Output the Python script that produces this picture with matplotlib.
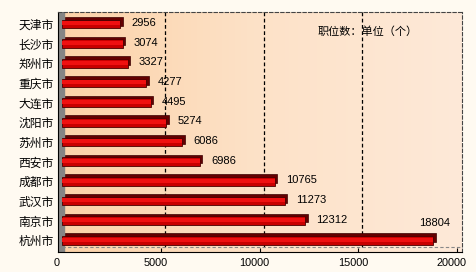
import numpy as np
import matplotlib.pyplot as plt
from matplotlib.colors import LinearSegmentedColormap
from matplotlib.transforms import ScaledTranslation

plt.rcParams['font.family'] = ['Noto Sans CJK SC', 'DejaVu Sans']

cities = ['天津市', '长沙市', '郑州市', '重庆市', '大连市', '沈阳市',
          '苏州市', '西安市', '成都市', '武汉市', '南京市', '杭州市']
jobs = [2956, 3074, 3327, 4277, 4495, 5274, 6086, 6986, 10765, 11273, 12312, 18804]
xticks = [0, 5000, 10000, 15000, 20000]
unit_note = '职位数：单位（个）'

# pixel scale helpers (x: 395 px per 20000)
k = 395 / 20000
x_lo = -4 / k
x_hi = 400 / k
y_top, y_bot = -0.61, 11.6
dx = 2.5 / k        # 3d depth in data units
dy = 2.5 / 19.65

fig = plt.figure(figsize=(4.76, 2.72), dpi=100, facecolor='#fffaf1')
ax = fig.add_axes([58 / 476, 20 / 272, 404 / 476, 240 / 272])
ax.set_xlim(x_lo, x_hi)
ax.set_ylim(y_bot, y_top)

# peach gradient back wall
cmap = LinearSegmentedColormap.from_list('peach', ['#fcd2a8', '#fde2c8', '#fee9d8'])
grad = np.linspace(0, 1, 256).reshape(1, -1)
ax.imshow(grad, extent=[x_lo, x_hi, y_bot, y_top], aspect='auto', cmap=cmap, zorder=0)

# back wall gridlines
floor_y = (247 - 24) / 19.65
for t in xticks[1:-1]:
    ax.plot([t + 4 / k, t + 4 / k], [y_top, floor_y], ls=(0, (3, 2)), color='black', lw=0.9, zorder=1)
ax.plot([0, x_hi], [floor_y, floor_y], ls=(0, (3, 2)), color='#888888', lw=0.8, zorder=1)

# left grey wall
ax.axvspan(x_lo, 2 / k, color='#858585', zorder=2)

y = np.arange(len(cities))
h = 0.44
# depth faces
ax.barh(y - dy, jobs, left=dx, height=h, color='#640000', edgecolor='#3a0000', lw=0.5, zorder=3)
# front face
ax.barh(y, jobs, height=h, color='#c80000', edgecolor='#4a0000', lw=0.6, zorder=4)
ax.barh(y - 0.03, jobs, height=h * 0.45, color='#f01010', lw=0, zorder=5)

top = max(jobs)
for yi, v in zip(y, jobs):
    if v == top:
        ax.text(v - 700, yi - 0.85, str(v), fontsize=8, family='Liberation Sans',
                va='center', ha='left', zorder=6)
    else:
        ax.text(v + 560, yi - 0.05, str(v), fontsize=8, family='Liberation Sans',
                va='center', ha='left', zorder=6)

ax.text(0.643, 0.917, unit_note, transform=ax.transAxes, fontsize=8,
        va='center', ha='left', zorder=6)

ax.set_yticks(y)
ax.set_yticklabels(cities, fontsize=8.5)
ax.set_xticks(xticks)
ax.set_xticklabels([str(t) for t in xticks], family='Liberation Sans', fontsize=7.8)
ax.tick_params(axis='y', length=0, pad=3)
ax.tick_params(axis='x', length=3, direction='in', pad=4)
for lab in ax.get_xticklabels():
    lab.set_transform(lab.get_transform() + ScaledTranslation(-5 / 100, 0, fig.dpi_scale_trans))

for s in ['top', 'right']:
    ax.spines[s].set_linestyle((0, (3, 2)))
    ax.spines[s].set_color('#444444')
    ax.spines[s].set_linewidth(0.8)
ax.spines['left'].set_color('black')
ax.spines['bottom'].set_color('black')

fig.savefig('out.png', dpi=100, facecolor=fig.get_facecolor())
